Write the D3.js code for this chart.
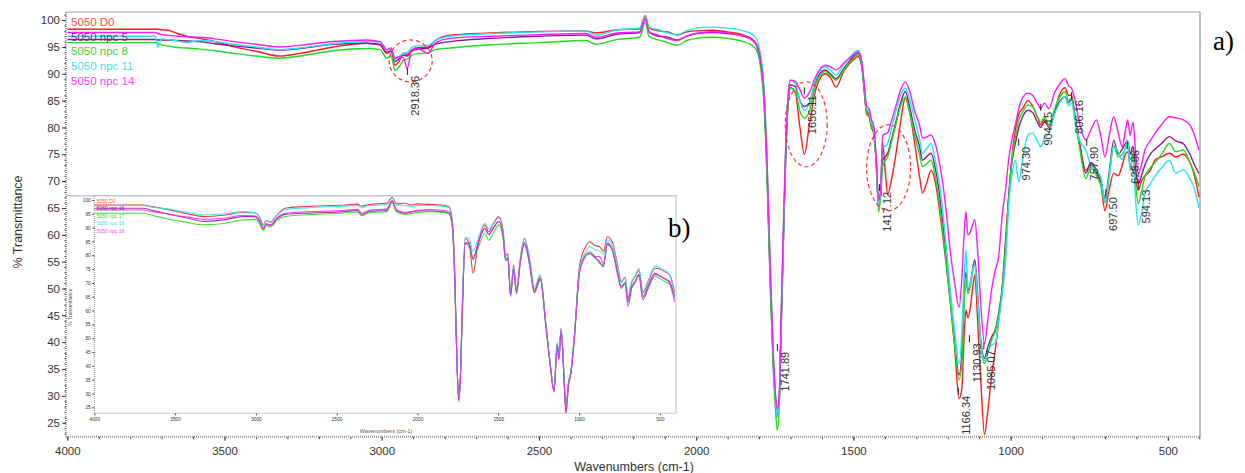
<!DOCTYPE html>
<html lang="en">
<head>
<meta charset="UTF-8">
<script src="https://d3js.org/d3.v7.min.js"></script>
<style>
  body { margin: 0; background: #fff; }
  svg { font-family: Arial, "Liberation Sans", sans-serif; }
  .axis path { display: none; }
  .axis line { stroke: #333; }
  .axis text { fill: #333; }
</style>
</head>
<body>
<svg id="chart" width="1245" height="473"></svg>
<script>
// ---- main spectra (a) ----
const wavenumbers = [4000,3720,3712,3700,3680,3650,3620,3580,3530,3470,
  3400,3323,3260,3154,3048,3005,2984,2970,2958,2945,
  2931,2919,2905,2890,2852,2830,2783,2650,2500,2350,
  2320,2250,2180,2162,2150,2120,2090,2060,2030,2000,
  1950,1900,1850,1820,1805,1795,1785,1775,1765,1755,
  1748,1742,1736,1730,1722,1715,1708,1700,1685,1670,
  1656,1640,1620,1590,1570,1556,1530,1500,1485,1474,
  1466,1458,1450,1443,1436,1428,1420,1414,1407,1399,
  1391,1380,1365,1350,1335,1320,1305,1290,1280,1268,
  1253,1240,1225,1208,1192,1178,1164,1155,1148,1142,
  1136,1128,1120,1114,1105,1095,1083,1073,1060,1049,
  1038,1027,1015,1005,995,985,974,962,945,930,
  915,904,893,878,860,845,827,816,806,795,
  780,761,745,727,712,700,688,672,658,645,
  635,628,620,611,602,594,584,573,556,540,
  520,495,475,451,430,415,401];

const d0 = [98.3,98.3,98.3,98.2,98.1,97.5,97.0,96.6,96.0,95.0,
  94.2,93.3,93.8,95.0,95.7,95.4,93.8,94.2,91.6,92.3,
  93.8,93.6,94.4,94.8,95.0,96.2,97.2,97.6,97.9,98.0,
  97.6,98.2,98.4,100.8,98.6,98.0,97.8,97.2,97.8,98.0,
  98.1,97.8,97.2,96.4,95.0,92.0,86.0,72.0,52.0,36.0,
  29.0,26.5,29.0,42.0,60.0,75.0,84.0,87.4,86.5,80.0,
  75.0,80.5,87.0,90.0,89.0,87.5,90.5,92.6,93.2,91.5,
  87.0,82.5,82.0,80.0,79.0,74.0,66.0,67.0,77.0,72.0,
  67.5,70.0,75.0,81.0,85.5,82.5,77.0,71.0,67.8,69.5,
  72.0,70.0,64.0,56.0,47.5,39.0,29.5,31.5,41.0,46.0,
  44.5,46.5,50.5,52.5,44.0,33.0,22.8,27.0,34.0,38.5,
  44.0,50.0,60.0,68.0,75.0,79.5,82.5,83.5,85.0,84.0,
  82.0,80.5,81.5,80.0,83.0,86.0,87.4,86.0,86.0,82.0,
  77.0,72.0,73.0,71.5,69.0,64.5,68.0,71.5,71.0,73.0,
  75.0,75.5,73.0,72.0,70.0,68.3,70.0,71.0,72.0,74.0,
  74.5,75.2,74.5,75.0,73.5,71.0,67.0];

const npc5 = [96.4,96.4,96.3,96.3,96.3,96.2,96.1,96.0,95.6,95.2,
  94.8,94.4,94.7,95.5,95.7,95.4,94.0,94.3,92.3,92.8,
  93.5,93.3,94.2,94.5,94.8,95.5,96.0,96.6,97.0,97.2,
  96.5,97.4,97.7,100.2,97.8,97.0,96.8,96.3,97.0,97.5,
  97.7,97.5,97.0,96.2,94.8,92.0,86.5,73.0,53.0,37.0,
  29.5,26.0,29.0,43.0,61.0,76.0,85.0,87.9,87.6,85.0,
  83.9,84.5,88.5,90.7,89.8,89.1,91.0,93.2,93.8,92.0,
  87.5,83.0,82.5,80.5,79.5,74.0,65.5,67.0,73.9,74.5,
  75.2,77.5,81.0,84.5,86.7,83.5,79.5,76.5,73.9,74.5,
  75.2,72.5,67.0,57.5,48.5,40.0,33.9,38.0,48.0,53.1,
  49.7,51.0,54.0,55.3,49.0,40.5,37.0,39.0,41.0,42.3,
  45.5,50.0,59.0,68.0,74.0,77.0,80.0,82.0,83.2,82.8,
  81.0,80.0,81.0,80.5,83.0,84.8,85.7,84.6,85.2,82.0,
  76.5,71.5,73.5,72.0,69.5,66.8,71.0,77.6,75.0,76.0,
  77.0,77.6,75.0,76.5,72.0,69.5,71.0,73.0,75.0,76.0,
  77.0,78.3,77.5,77.0,75.0,73.0,71.4];

const npc8 = [95.8,95.8,95.7,95.4,95.2,94.9,94.8,94.6,94.3,93.8,
  93.3,92.9,93.3,94.3,94.7,94.5,92.9,93.3,90.6,91.3,
  92.5,92.8,93.4,93.7,93.9,94.5,94.8,95.4,95.8,96.2,
  95.5,96.4,96.8,99.5,97.0,96.3,95.8,95.3,96.2,96.6,
  96.8,96.6,96.0,95.2,94.0,91.0,85.0,71.0,51.0,35.0,
  27.5,23.6,28.0,42.0,60.0,75.0,84.0,87.3,86.8,83.0,
  81.7,83.0,88.0,90.4,89.5,88.8,90.7,92.9,93.5,91.8,
  87.3,82.8,82.3,80.3,79.3,73.5,64.3,66.5,72.7,73.8,
  74.6,77.0,80.5,84.0,85.7,82.5,78.5,75.0,72.7,73.2,
  73.9,71.0,65.0,56.5,47.8,39.5,33.0,36.5,47.0,52.2,
  49.0,50.5,53.5,54.4,48.0,39.5,36.0,38.0,40.5,42.0,
  45.0,49.5,58.5,67.5,74.5,78.0,81.4,82.8,84.2,83.8,
  82.0,81.0,82.0,80.5,83.5,85.5,86.7,85.0,85.5,81.5,
  76.0,70.5,72.5,71.0,69.0,66.0,70.5,76.5,74.5,75.0,
  76.0,77.0,74.0,75.0,69.0,65.8,68.0,70.8,72.5,73.5,
  75.0,77.0,75.5,75.8,73.5,71.5,69.0];

const npc11 = [97.0,97.0,95.0,96.5,96.4,96.1,95.8,96.2,96.0,95.5,
  95.0,94.5,94.8,95.6,96.0,95.8,94.4,94.6,92.6,93.2,
  93.8,94.0,94.9,95.2,95.3,96.2,97.0,97.5,97.8,98.0,
  97.2,98.2,98.5,100.6,98.7,98.2,97.6,97.3,98.0,98.5,
  98.7,98.5,98.0,97.3,96.0,93.5,88.0,75.0,55.0,38.0,
  30.0,26.0,29.0,43.0,62.0,77.0,86.0,88.8,88.2,85.0,
  83.2,84.5,89.0,91.3,90.5,89.8,91.8,93.8,94.4,92.5,
  88.0,83.5,83.0,81.0,80.0,74.5,65.6,67.5,76.4,76.5,
  77.0,79.5,83.0,86.0,87.3,85.0,81.5,78.0,75.2,76.0,
  77.0,74.0,69.0,60.0,49.7,42.0,36.0,42.0,52.0,57.2,
  50.0,51.0,53.5,54.4,48.0,40.0,36.5,38.0,39.5,39.8,
  44.0,48.5,56.0,66.5,71.5,73.9,69.9,74.0,78.6,79.0,
  77.5,76.4,78.0,79.0,82.5,84.5,85.7,84.0,84.5,81.0,
  77.5,75.8,73.0,72.0,70.5,66.0,70.0,76.5,75.5,74.0,
  76.5,77.5,72.0,74.5,66.0,61.8,64.0,67.7,69.5,71.0,
  72.5,73.9,71.5,72.1,70.5,68.5,65.0];

const npc14 = [97.7,97.7,97.5,97.3,97.2,97.0,96.9,96.8,96.5,96.0,
  95.5,95.0,95.3,96.0,96.3,96.0,94.5,94.8,92.9,93.2,
  93.0,91.0,94.4,94.8,93.8,95.7,96.6,97.0,97.3,97.5,
  96.8,97.6,97.8,100.3,97.8,97.2,96.5,96.2,97.0,97.5,
  97.8,97.6,97.0,96.2,95.0,92.5,87.0,74.0,55.0,38.0,
  30.5,27.5,30.0,45.0,63.0,77.0,85.5,88.8,88.6,87.0,
  85.5,86.5,89.5,91.6,91.2,90.7,92.0,93.5,94.1,92.5,
  88.5,84.0,83.5,81.5,80.5,75.0,66.5,68.0,78.5,78.8,
  79.0,81.0,84.0,87.0,88.5,86.5,83.0,80.5,78.0,78.2,
  78.6,77.0,73.0,66.0,57.0,51.0,46.5,52.0,60.0,64.3,
  60.0,60.5,62.0,62.8,57.0,47.0,39.8,44.0,50.0,53.4,
  56.0,63.5,69.0,74.6,78.0,80.5,83.5,85.5,86.4,86.0,
  84.5,83.5,84.5,83.5,86.5,88.0,89.1,87.8,87.3,85.0,
  80.5,77.7,79.5,81.4,78.0,74.5,78.0,82.0,79.0,76.4,
  79.5,81.4,78.5,81.0,75.0,71.4,73.0,75.8,77.5,79.0,
  80.5,82.0,81.8,81.4,80.5,78.5,75.8];

const mainNames = ["5050 D0", "5050 npc 5", "5050 npc 8", "5050 npc 11", "5050 npc 14"];

// peak labels (cm-1) and where the label text starts (% T)
const peakWn = [2918.36, 1656.11, 1417.12, 1741.89, 1166.34, 1130.93, 1085.07, 974.30, 904.15, 806.16, 757.90, 697.50, 628.86, 594.13];
const peakLabelT = [89.6, 86.0, 68.0, 38.2, 30.0, 39.8, 38.5, 76.4, 82.9, 85.1, 76.4, 67.0, 75.8, 68.4];

// dashed circles: centre wavenumber, centre %T
const circleWn = [2908, 1650, 1388];
const circleT = [92.4, 80.6, 72.5];

// ---- inset spectra (b) ----
const insetWn = [4000,3700,3640,3550,3420,3320,3200,3080,3010,2975,
  2955,2935,2910,2870,2820,2650,2450,2370,2345,2300,
  2190,2157,2130,2080,2040,2000,1930,1850,1805,1785,
  1770,1757,1745,1735,1722,1705,1680,1656,1625,1583,
  1559,1530,1497,1470,1455,1440,1424,1405,1387,1365,
  1338,1305,1277,1240,1205,1178,1155,1135,1125,1111,
  1095,1081,1065,1052,1030,996,960,935,900,873,
  849,825,795,760,739,715,697,675,653,629,
  605,568,531,500,470,440,409];

const insetD0 = [98.2,98.2,97.6,96.6,95.0,94.0,94.5,95.5,95.4,93.5,
  91.0,92.5,92.0,94.5,97.0,97.8,98.2,98.5,97.8,98.4,
  98.8,101.0,98.6,98.8,98.2,98.6,98.4,98.2,97.6,93.0,
  75.0,45.0,28.0,35.0,62.0,86.0,84.5,73.5,84.0,91.0,
  88.5,91.5,94.0,89.0,80.0,80.5,66.2,76.5,67.0,78.0,
  86.1,78.0,67.4,72.3,55.0,40.0,30.6,48.1,42.7,53.6,
  38.0,22.9,33.0,37.0,50.0,76.5,83.0,84.9,83.5,83.1,
  81.5,86.7,85.0,76.0,70.5,72.0,64.4,70.0,72.3,74.7,
  66.5,71.0,75.3,75.0,74.0,73.0,66.8];

const insetNpc16 = [97.0,97.0,96.3,95.0,93.4,92.2,92.8,94.0,94.0,92.0,
  89.5,91.2,90.8,93.2,94.8,95.3,95.8,96.2,94.6,95.8,
  96.3,99.5,96.2,95.2,95.6,96.0,96.0,95.8,95.2,91.0,
  73.0,44.5,28.0,35.0,60.5,84.5,84.0,78.5,84.0,89.8,
  87.5,89.8,92.2,87.0,78.5,79.0,65.5,75.0,66.5,77.0,
  84.5,76.5,66.8,71.5,54.5,40.5,31.0,48.0,42.5,53.0,
  38.5,24.5,34.0,37.0,49.5,74.5,80.0,80.7,79.0,77.7,
  75.9,84.0,82.0,73.0,68.5,70.0,63.0,68.5,70.5,73.0,
  65.0,69.5,73.5,72.5,71.5,70.5,65.0];

const insetNpc17 = [95.2,95.2,94.4,93.2,91.8,91.0,91.5,92.8,93.0,91.2,
  89.0,90.6,90.2,92.6,94.0,94.8,95.3,95.7,94.3,95.3,
  95.8,99.0,95.8,94.8,95.0,95.5,95.8,95.6,95.0,90.5,
  72.5,44.0,28.5,35.5,60.0,84.0,83.0,78.5,82.5,87.9,
  85.5,88.0,91.0,86.0,78.0,78.5,65.0,74.5,66.0,76.5,
  83.7,76.0,66.5,71.0,54.5,40.5,31.5,48.0,43.0,53.0,
  39.0,25.5,34.5,37.5,50.0,75.0,80.0,81.3,79.5,77.0,
  76.5,83.7,82.0,72.5,68.0,69.5,63.5,68.0,70.0,72.5,
  64.0,68.5,72.5,71.5,70.5,69.5,64.5];

const insetNpc18 = [98.0,98.0,97.4,96.8,95.5,94.6,95.0,95.8,95.5,93.8,
  90.8,92.5,92.2,94.5,96.5,97.3,97.8,98.0,97.2,97.9,
  98.3,100.7,98.2,98.0,97.6,98.0,98.0,97.8,97.2,92.5,
  74.0,44.0,28.5,35.5,62.0,86.5,86.0,81.3,86.0,91.6,
  89.5,91.5,93.4,88.5,79.5,80.0,66.0,76.0,67.0,78.0,
  86.0,78.5,68.5,73.0,55.0,40.5,31.5,48.5,43.5,53.5,
  39.0,25.0,34.0,37.5,50.0,75.5,81.0,83.1,82.0,81.5,
  80.5,85.5,84.0,75.5,70.0,72.0,65.0,70.5,72.5,75.3,
  67.0,71.5,76.0,75.5,74.5,73.0,66.0];

const insetNpc19 = [96.4,96.4,95.8,95.0,93.8,93.0,93.4,94.4,94.3,92.5,
  89.8,91.5,91.0,93.5,95.2,95.8,96.3,96.6,95.2,96.3,
  96.8,99.8,96.5,95.5,95.8,96.3,96.5,96.3,95.8,91.5,
  73.5,44.0,27.0,34.0,60.0,84.5,84.0,78.9,84.5,89.8,
  87.5,90.0,92.2,87.5,78.5,79.0,65.5,75.0,66.5,77.0,
  84.3,77.0,66.5,71.5,54.0,40.0,31.0,47.5,42.0,52.5,
  37.5,23.0,33.5,36.5,49.0,74.0,79.5,80.7,79.5,79.5,
  77.0,84.5,82.5,73.5,68.5,70.0,61.4,68.0,70.5,73.0,
  64.0,69.0,73.0,72.5,71.5,70.0,63.2];

const insetNames = ["5050 D0", "5050 npc 16", "5050 npc 17", "5050 npc 18", "5050 npc 19"];

const lineColors = ["#ff1a1a", "#8b1a8b", "#1fdc1f", "#22e4f2", "#ff19ff"];
const textColors = ["#ff4a4a", "#7a2a8a", "#3ad83a", "#3ee2f0", "#ff3cff"];

const svg = d3.select("#chart");
const plain = d3.format("d");

// ---------------- main plot ----------------
const box = { left: 66, right: 1200, top: 12, bottom: 436.7 };
const x = d3.scaleLinear().domain([4000, 400]).range([67.3, 1199.3]);
const y = d3.scaleLinear().domain([100, 25]).range([20.1, 422.7]);

svg.append("clipPath").attr("id", "mainClip")
  .append("rect").attr("x", box.left).attr("y", box.top)
  .attr("width", box.right - box.left).attr("height", box.bottom - box.top);

// frame top + right
svg.append("line").attr("x1", box.left).attr("x2", box.right).attr("y1", box.top).attr("y2", box.top)
  .attr("stroke", "#c4c4c4").attr("stroke-width", 1.5);
svg.append("line").attr("x1", box.right).attr("x2", box.right).attr("y1", box.top).attr("y2", box.bottom)
  .attr("stroke", "#bdbdbd").attr("stroke-width", 2);

const line = d3.line().x(d => x(d[0])).y(d => y(d[1])).curve(d3.curveMonotoneX);
const mainSeries = [d0, npc5, npc8, npc11, npc14];
const gMain = svg.append("g").attr("clip-path", "url(#mainClip)");
mainSeries.forEach((vals, i) => {
  gMain.append("path")
    .datum(d3.zip(wavenumbers, vals))
    .attr("fill", "none")
    .attr("stroke", lineColors[i])
    .attr("stroke-width", 1.4)
    .attr("d", line);
});

// legend
mainNames.forEach((name, i) => {
  svg.append("text")
    .attr("x", 71).attr("y", 22 + i * 14.7)
    .attr("dominant-baseline", "central")
    .attr("font-size", 11.5)
    .attr("fill", textColors[i])
    .text(name);
});

// peak labels
peakWn.forEach((wn, i) => {
  const px = x(wn), top = y(peakLabelT[i]);
  svg.append("line").attr("x1", px).attr("x2", px).attr("y1", top - 8).attr("y2", top - 1)
    .attr("stroke", "#222").attr("stroke-width", 1);
  svg.append("text")
    .attr("transform", "translate(" + (px + 7.5) + "," + top + ") rotate(-90)")
    .attr("text-anchor", "end")
    .attr("dominant-baseline", "central")
    .attr("font-size", 11)
    .attr("fill", "#333")
    .text(wn.toFixed(2));
});

// dashed circles
const circleR = [[21.5, 21], [21, 42.5], [22, 43]];
circleWn.forEach((wn, i) => {
  svg.append("ellipse")
    .attr("cx", x(wn)).attr("cy", y(circleT[i]))
    .attr("rx", circleR[i][0]).attr("ry", circleR[i][1])
    .attr("fill", "none").attr("stroke", "#ff3030")
    .attr("stroke-width", 1.2).attr("stroke-dasharray", "4,3");
});

// ---------------- inset (b) ----------------
const ib = { left: 94.3, right: 676, top: 196, bottom: 413.3 };
const xi = d3.scaleLinear().domain([4000, 400]).range([94.3, 676]);
const yi = d3.scaleLinear().domain([100, 25]).range([200, 407.3]);

svg.append("rect").attr("x", 67).attr("y", 195.7).attr("width", 676 - 67).attr("height", 240)
  .attr("fill", "#fff");
svg.append("line").attr("x1", 66).attr("x2", 677).attr("y1", 195.7).attr("y2", 195.7)
  .attr("stroke", "#c8c8c8").attr("stroke-width", 1.5);
svg.append("line").attr("x1", 676).attr("x2", 676).attr("y1", 195.7).attr("y2", ib.bottom)
  .attr("stroke", "#c8c8c8").attr("stroke-width", 1.2);

svg.append("clipPath").attr("id", "insetClip")
  .append("rect").attr("x", ib.left).attr("y", ib.top)
  .attr("width", ib.right - ib.left).attr("height", ib.bottom - ib.top);

const lineI = d3.line().x(d => xi(d[0])).y(d => yi(d[1])).curve(d3.curveMonotoneX);
const insetSeries = [insetD0, insetNpc16, insetNpc17, insetNpc18, insetNpc19];
const gIn = svg.append("g").attr("clip-path", "url(#insetClip)");
insetSeries.forEach((vals, i) => {
  gIn.append("path")
    .datum(d3.zip(insetWn, vals))
    .attr("fill", "none")
    .attr("stroke", lineColors[i])
    .attr("stroke-opacity", 0.85)
    .attr("stroke-width", 1.1)
    .attr("d", lineI);
});

insetNames.forEach((name, i) => {
  svg.append("text")
    .attr("x", 96.7).attr("y", 200.5 + i * 7.6)
    .attr("dominant-baseline", "central")
    .attr("font-size", 5)
    .attr("fill", textColors[i])
    .text(name);
});

// inset axes
const gIy = svg.append("g").attr("class", "axis")
  .attr("transform", "translate(" + ib.left + ",0)")
  .call(d3.axisLeft(yi).tickValues(d3.range(25, 101, 5)).tickSize(2).tickPadding(1.5).tickFormat(plain));
gIy.selectAll("text").attr("font-size", 4.8).attr("fill", "#555");
gIy.selectAll("line").attr("stroke", "#777");
svg.append("line").attr("x1", ib.left).attr("x2", ib.left).attr("y1", ib.top).attr("y2", ib.bottom)
  .attr("stroke", "#888").attr("stroke-dasharray", "1,1");

const gIx = svg.append("g").attr("class", "axis")
  .attr("transform", "translate(0," + ib.bottom + ")")
  .call(d3.axisBottom(xi).tickValues(d3.range(500, 4001, 500)).tickSize(2).tickPadding(2).tickFormat(plain));
gIx.selectAll("text").attr("font-size", 4.8).attr("fill", "#555");
gIx.selectAll("line").attr("stroke", "#777");
svg.append("line").attr("x1", ib.left).attr("x2", ib.right).attr("y1", ib.bottom).attr("y2", ib.bottom)
  .attr("stroke", "#999").attr("stroke-dasharray", "1,1");

svg.append("text").attr("x", 386).attr("y", 430.5)
  .attr("text-anchor", "middle").attr("dominant-baseline", "central")
  .attr("font-size", 5.5).attr("fill", "#555").text("Wavenumbers (cm-1)");
svg.append("text").attr("transform", "translate(70,307) rotate(-90)")
  .attr("text-anchor", "middle").attr("dominant-baseline", "central")
  .attr("font-size", 5).attr("fill", "#555").text("% Transmittance");

// ---------------- main axes ----------------
const gY = svg.append("g").attr("class", "axis")
  .attr("transform", "translate(" + box.left + ",0)")
  .call(d3.axisLeft(y).tickValues(d3.range(25, 101, 5)).tickSize(4).tickPadding(2).tickFormat(plain));
gY.selectAll("text").attr("font-size", 11.5);
svg.append("g").attr("class", "axis")
  .attr("transform", "translate(" + box.left + ",0)")
  .call(d3.axisLeft(y).tickValues(d3.range(23, 102, 1)).tickSize(1.5).tickFormat(""));
svg.append("line").attr("x1", box.left).attr("x2", box.left).attr("y1", box.top).attr("y2", box.bottom)
  .attr("stroke", "#444").attr("stroke-dasharray", "1,1");

const gX = svg.append("g").attr("class", "axis")
  .attr("transform", "translate(0," + box.bottom + ")")
  .call(d3.axisBottom(x).tickValues(d3.range(500, 4001, 500)).tickSize(4).tickPadding(6).tickFormat(plain));
gX.selectAll("text").attr("font-size", 11.5);
svg.append("g").attr("class", "axis")
  .attr("transform", "translate(0," + box.bottom + ")")
  .call(d3.axisBottom(x).tickValues(d3.range(400, 4001, 100)).tickSize(2.5).tickFormat(""));
svg.append("line").attr("x1", box.left).attr("x2", box.right).attr("y1", box.bottom).attr("y2", box.bottom)
  .attr("stroke", "#999").attr("stroke-width", 2).attr("stroke-dasharray", "1,1");

svg.append("text").attr("x", 634).attr("y", 466.5)
  .attr("text-anchor", "middle").attr("dominant-baseline", "central")
  .attr("font-size", 12.5).attr("fill", "#333").text("Wavenumbers (cm-1)");
svg.append("text").attr("transform", "translate(18,222) rotate(-90)")
  .attr("text-anchor", "middle").attr("dominant-baseline", "central")
  .attr("font-size", 12.5).attr("fill", "#333").text("% Transmittance");

// panel tags
svg.append("text").attr("x", 1213).attr("y", 50)
  .attr("font-family", "'Liberation Serif', 'Times New Roman', serif")
  .attr("font-size", 27).attr("fill", "#000").text("a)");
svg.append("text").attr("x", 668).attr("y", 237)
  .attr("font-family", "'Liberation Serif', 'Times New Roman', serif")
  .attr("font-size", 27).attr("fill", "#000").text("b)");
</script>
</body>
</html>
